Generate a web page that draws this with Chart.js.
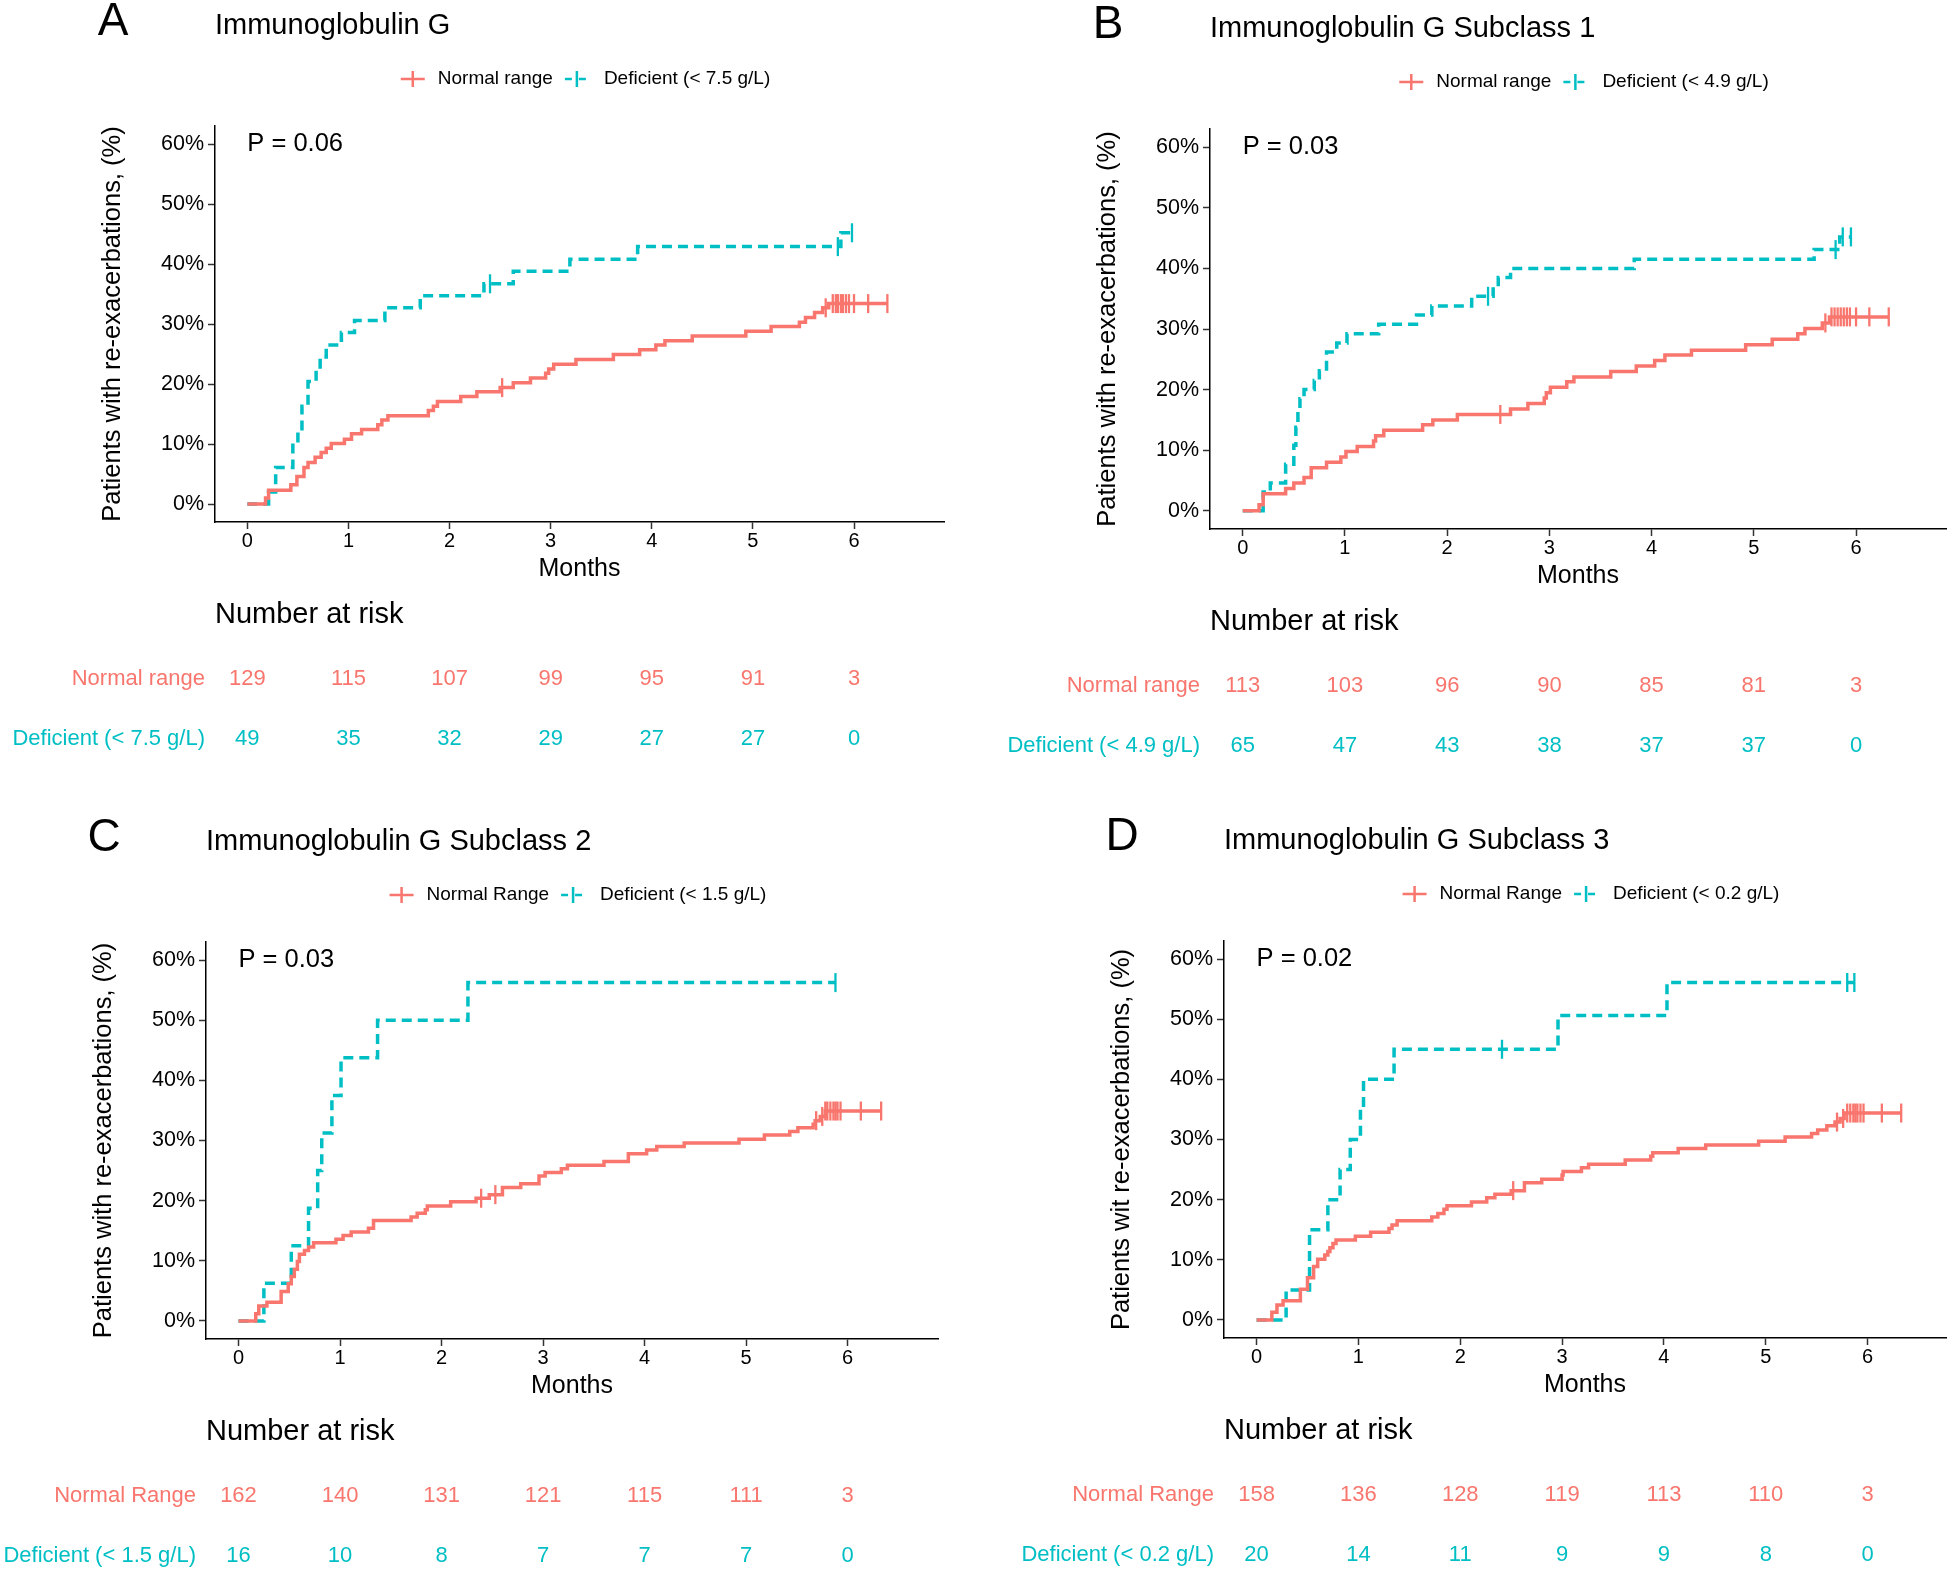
<!DOCTYPE html>
<html lang="en">
<head>
<meta charset="UTF-8" />
<title>Re-exacerbations by immunoglobulin G level</title>
<style>
  body { margin: 0; background: #fff; width: 1960px; height: 1572px; position: relative; overflow: hidden; }
  canvas { position: absolute; }
</style>
</head>
<body>
<canvas id="panelA" width="980" height="786" style="left:0px;top:0px"></canvas>
<canvas id="panelB" width="980" height="786" style="left:980px;top:0px"></canvas>
<canvas id="panelC" width="980" height="786" style="left:0px;top:786px"></canvas>
<canvas id="panelD" width="980" height="786" style="left:980px;top:786px"></canvas>
<script src="https://cdn.jsdelivr.net/npm/chart.js"></script>
<script>
// shared axes
const monthTicks = [0, 1, 2, 3, 4, 5, 6];
const pctTicks = [0, 10, 20, 30, 40, 50, 60];

// A - Immunoglobulin G
const aNormalTime = [0, 0.18, 0.21, 0.43, 0.49, 0.56, 0.6, 0.67, 0.73, 0.78, 0.83, 0.96, 1.03, 1.13, 1.29, 1.33, 1.39, 1.79, 1.84, 1.88, 2.11, 2.27, 2.5, 2.63, 2.8, 2.95, 2.98, 3.03, 3.25, 3.62, 3.88, 4.04, 4.13, 4.4, 4.93, 5.18, 5.46, 5.52, 5.61, 5.69, 5.75];
const aNormalPct = [0, 1.0, 2.3, 3.2, 4.6, 6.1, 6.9, 7.8, 8.6, 9.3, 10.1, 10.8, 11.7, 12.4, 13.2, 14.0, 14.7, 15.6, 16.3, 17.1, 17.9, 18.7, 19.4, 20.2, 21.0, 21.8, 22.5, 23.3, 24.1, 24.9, 25.7, 26.5, 27.2, 28.0, 28.8, 29.6, 30.3, 31.1, 31.9, 32.7, 33.4];
const aNormalCensor = [2.52, 5.72, 5.79, 5.82, 5.84, 5.87, 5.89, 5.92, 5.95, 6.0, 6.14, 6.33];
const aDefTime = [0, 0.21, 0.28, 0.45, 0.5, 0.54, 0.6, 0.68, 0.72, 0.78, 0.93, 1.06, 1.36, 1.71, 2.34, 2.63, 3.19, 3.86, 5.87];
const aDefPct = [0, 2.0, 6.1, 10.2, 12.2, 16.3, 20.4, 22.4, 24.5, 26.5, 28.6, 30.6, 32.7, 34.7, 36.7, 38.8, 40.8, 42.9, 45.2];
const aDefCensor = [2.4, 5.84, 5.98];
const aRiskNormal = [129, 115, 107, 99, 95, 91, 3];
const aRiskDef = [49, 35, 32, 29, 27, 27, 0];

// B - Subclass 1
const bNormalTime = [0, 0.16, 0.2, 0.42, 0.5, 0.6, 0.67, 0.82, 0.96, 1.01, 1.12, 1.28, 1.3, 1.38, 1.76, 1.86, 2.1, 2.62, 2.79, 2.95, 2.97, 3.01, 3.17, 3.24, 3.6, 3.85, 4.03, 4.13, 4.39, 4.92, 5.18, 5.43, 5.5, 5.67, 5.74];
const bNormalPct = [0, 1.0, 2.8, 3.7, 4.6, 5.5, 7.1, 8.0, 8.9, 9.8, 10.6, 11.5, 12.4, 13.3, 14.2, 15.0, 15.9, 16.8, 17.7, 18.6, 19.5, 20.4, 21.3, 22.1, 23.0, 23.9, 24.8, 25.7, 26.5, 27.4, 28.3, 29.2, 30.1, 31.0, 32.0];
const bNormalCensor = [2.52, 5.7, 5.76, 5.79, 5.82, 5.85, 5.88, 5.91, 5.94, 6.0, 6.13, 6.32];
const bDefTime = [0, 0.2, 0.27, 0.42, 0.5, 0.52, 0.54, 0.56, 0.6, 0.7, 0.75, 0.82, 0.92, 1.02, 1.33, 1.7, 1.85, 2.24, 2.45, 2.5, 2.62, 3.83, 5.59, 5.84];
const bDefPct = [0, 3.1, 4.6, 7.7, 10.8, 13.8, 16.9, 18.5, 20.0, 21.5, 23.1, 26.2, 27.7, 29.2, 30.8, 32.3, 33.8, 35.4, 36.9, 38.5, 40.0, 41.5, 43.1, 45.2];
const bDefCensor = [2.4, 5.8, 5.87, 5.95];
const bRiskNormal = [113, 103, 96, 90, 85, 81, 3];
const bRiskDef = [65, 47, 43, 38, 37, 37, 0];

// C - Subclass 2
const cNormalTime = [0, 0.17, 0.2, 0.28, 0.42, 0.49, 0.52, 0.55, 0.58, 0.6, 0.65, 0.69, 0.74, 0.96, 1.03, 1.11, 1.28, 1.33, 1.7, 1.76, 1.84, 1.86, 2.09, 2.34, 2.47, 2.6, 2.78, 2.96, 3.02, 3.18, 3.24, 3.6, 3.84, 4.02, 4.12, 4.39, 4.93, 5.18, 5.43, 5.51, 5.66, 5.68, 5.73, 5.78];
const cNormalPct = [0, 1.2, 2.5, 3.1, 4.9, 6.2, 7.4, 8.6, 9.9, 11.1, 11.7, 12.3, 13.0, 13.6, 14.2, 14.8, 15.4, 16.7, 17.3, 17.9, 18.5, 19.1, 19.8, 20.4, 21.0, 22.2, 22.8, 24.1, 24.7, 25.3, 25.9, 26.5, 27.8, 28.4, 29.0, 29.6, 30.2, 30.9, 31.5, 32.1, 32.7, 33.3, 34.0, 34.9];
const cNormalCensor = [2.39, 2.53, 5.69, 5.75, 5.78, 5.8, 5.83, 5.86, 5.88, 5.9, 5.93, 6.13, 6.33];
const cDefTime = [0, 0.25, 0.52, 0.69, 0.78, 0.82, 0.92, 1.01, 1.37, 2.26];
const cDefPct = [0, 6.25, 12.5, 18.75, 25, 31.25, 37.5, 43.75, 50, 56.25];
const cDefCensor = [5.88];
const cRiskNormal = [162, 140, 131, 121, 115, 111, 3];
const cRiskDef = [16, 10, 8, 7, 7, 7, 0];

// D - Subclass 3
const dNormalTime = [0, 0.15, 0.2, 0.26, 0.43, 0.5, 0.56, 0.6, 0.67, 0.7, 0.72, 0.75, 0.78, 0.97, 1.12, 1.3, 1.33, 1.38, 1.72, 1.78, 1.84, 1.87, 2.11, 2.26, 2.34, 2.5, 2.63, 2.8, 3.0, 3.01, 3.19, 3.26, 3.62, 3.87, 3.89, 4.14, 4.41, 4.93, 5.19, 5.45, 5.51, 5.6, 5.68, 5.73, 5.77];
const dNormalPct = [0, 1.3, 2.5, 3.2, 5.1, 7.0, 8.9, 10.1, 10.8, 11.4, 12.0, 12.7, 13.3, 13.9, 14.6, 15.2, 15.8, 16.5, 17.1, 17.7, 18.4, 19.0, 19.6, 20.3, 20.9, 21.5, 22.8, 23.4, 24.1, 24.7, 25.3, 25.9, 26.6, 27.2, 27.8, 28.5, 29.1, 29.7, 30.4, 31.0, 31.6, 32.3, 32.9, 33.5, 34.4];
const dNormalCensor = [2.52, 5.7, 5.76, 5.8, 5.83, 5.86, 5.88, 5.9, 5.93, 5.96, 6.14, 6.33];
const dDefTime = [0, 0.29, 0.52, 0.7, 0.82, 0.92, 1.02, 1.05, 1.35, 2.96, 4.03];
const dDefPct = [0, 5, 15, 20, 25, 30, 35, 40, 45, 50.6, 56.1];
const dDefCensor = [2.41, 5.8, 5.87];
const dRiskNormal = [158, 136, 128, 119, 113, 110, 3];
const dRiskDef = [20, 14, 11, 9, 9, 8, 0];

const FONT = '"Liberation Sans", Arial, Helvetica, sans-serif';
const RED = '#F8766D';
const CYAN = '#00BFC4';
const YW = 117;  // fixed y-axis box width
const XH = 62;   // fixed x-axis box height

Chart.defaults.font.family = FONT;

// value of a KM step curve at time t
function stepAt(times, pcts, t) {
  let v = pcts[0];
  for (let i = 0; i < times.length; i++) if (times[i] <= t) v = pcts[i];
  return v;
}

function curve(times, pcts, censor) {
  const pts = times.map((t, i) => ({x: t, y: pcts[i]}));
  const end = Math.max(...censor);
  if (end > times[times.length - 1]) pts.push({x: end, y: pcts[pcts.length - 1]});
  return pts;
}

function marks(times, pcts, censor) {
  return censor.map(t => ({x: t, y: stepAt(times, pcts, t)}));
}

function makePanel(id, p) {
  const box = p.box, plot = p.plot;

  const decor = {
    id: 'decor' + id,
    afterDraw(chart) {
      const {ctx, chartArea: {left, right, top, bottom}, scales: {x, y}} = chart;
      ctx.save();
      ctx.fillStyle = '#000';

      // panel letter + title
      ctx.textBaseline = 'alphabetic';
      ctx.textAlign = 'center';
      ctx.font = '46px ' + FONT;
      ctx.fillText(p.letter, left - 102, top - 91);
      ctx.textAlign = 'left';
      ctx.font = '29px ' + FONT;
      ctx.fillText(p.title, left, top - 92);

      // legend
      ctx.font = '19px ' + FONT;
      const w1 = ctx.measureText(p.normalLabel).width;
      const w2 = ctx.measureText(p.defLabel).width;
      const total = 88 + w1 + w2;
      const c1 = (left + right) / 2 + 6 - total / 2 + 12;
      const c2 = c1 + 25 + w1 + 24;
      const ly = top - 47;
      ctx.lineWidth = 2.5;
      ctx.strokeStyle = RED;
      ctx.beginPath();
      ctx.moveTo(c1 - 12, ly); ctx.lineTo(c1 + 12, ly);
      ctx.moveTo(c1, ly - 8); ctx.lineTo(c1, ly + 8);
      ctx.stroke();
      ctx.strokeStyle = CYAN;
      ctx.setLineDash([7, 7]);
      ctx.beginPath();
      ctx.moveTo(c2 - 12, ly); ctx.lineTo(c2 + 12, ly);
      ctx.stroke();
      ctx.setLineDash([]);
      ctx.beginPath();
      ctx.moveTo(c2, ly - 8); ctx.lineTo(c2, ly + 8);
      ctx.stroke();
      ctx.fillText(p.normalLabel, c1 + 25, top - 42);
      ctx.fillText(p.defLabel, c2 + 27, top - 42);

      // p value
      ctx.font = '25.5px ' + FONT;
      ctx.textBaseline = 'middle';
      ctx.fillText(p.pText, x.getPixelForValue(0), y.getPixelForValue(60));

      // number at risk table
      ctx.font = '29px ' + FONT;
      ctx.fillText('Number at risk', left, bottom + 93);
      ctx.font = '22px ' + FONT;
      [[p.normalLabel, p.riskNormal, RED, 157], [p.defLabel, p.riskDef, CYAN, 217]].forEach(([label, vals, col, dy]) => {
        ctx.fillStyle = col;
        ctx.textAlign = 'right';
        ctx.fillText(label, left - 10, bottom + dy);
        ctx.textAlign = 'center';
        vals.forEach((v, i) => ctx.fillText(String(v), x.getPixelForValue(monthTicks[i]), bottom + dy));
      });
      ctx.restore();
    }
  };

  const censorStyle = {
    type: 'scatter', showLine: false, pointStyle: 'line', rotation: 90,
    pointRadius: 9.5, pointHoverRadius: 9.5, pointBorderWidth: 2.3
  };

  new Chart(document.getElementById(id), {
    type: 'line',
    data: {
      datasets: [
        { data: curve(p.normalTime, p.normalPct, p.normalCensor), borderColor: RED, borderWidth: 3.5, stepped: 'before', pointRadius: 0 },
        Object.assign({ data: marks(p.normalTime, p.normalPct, p.normalCensor), borderColor: RED, backgroundColor: RED }, censorStyle),
        { data: curve(p.defTime, p.defPct, p.defCensor), borderColor: CYAN, borderWidth: 3.5, borderDash: [10, 6], stepped: 'before', pointRadius: 0 },
        Object.assign({ data: marks(p.defTime, p.defPct, p.defCensor), borderColor: CYAN, backgroundColor: CYAN }, censorStyle)
      ]
    },
    plugins: [decor],
    options: {
      responsive: false,
      animation: false,
      events: [],
      layout: {
        padding: {
          left: plot.l - box.x - YW,
          top: plot.t - box.y,
          right: box.x + box.w - plot.r,
          bottom: box.y + box.h - plot.b - XH
        }
      },
      plugins: { legend: { display: false }, tooltip: { enabled: false } },
      scales: {
        x: {
          type: 'linear', min: -0.32, max: p.xMax,
          afterBuildTicks: s => { s.ticks = monthTicks.map(v => ({value: v})); },
          afterFit: s => { s.height = XH; },
          border: { display: true, color: '#000', width: 1.5 },
          grid: { drawOnChartArea: false, drawTicks: true, tickLength: 7, tickWidth: 1.5, tickColor: '#333' },
          ticks: { padding: 0, color: '#000', font: { size: 20 }, maxRotation: 0 },
          title: { display: true, text: 'Months', color: '#000', font: { size: 25 }, padding: 0 }
        },
        y: {
          type: 'linear', min: -3, max: 63,
          afterBuildTicks: s => { s.ticks = pctTicks.map(v => ({value: v})); },
          afterFit: s => { s.width = YW; },
          border: { display: true, color: '#000', width: 1.5 },
          grid: { drawOnChartArea: false, drawTicks: true, tickLength: 7, tickWidth: 1.5, tickColor: '#333' },
          ticks: { padding: 4, color: '#000', font: { size: 21.5 }, callback: v => v + '%' },
          title: { display: true, text: p.yTitle, color: '#000', font: { size: 25.5 }, padding: 0 }
        }
      }
    }
  });
}

makePanel('panelA', {
  box: {x: 0, y: 0, w: 980, h: 786}, plot: {l: 215, t: 126, r: 944, b: 522}, xMax: 6.89,
  letter: 'A', title: 'Immunoglobulin G', pText: 'P = 0.06',
  normalLabel: 'Normal range', defLabel: 'Deficient (< 7.5 g/L)',
  yTitle: 'Patients with re-exacerbations, (%)',
  normalTime: aNormalTime, normalPct: aNormalPct, normalCensor: aNormalCensor,
  defTime: aDefTime, defPct: aDefPct, defCensor: aDefCensor,
  riskNormal: aRiskNormal, riskDef: aRiskDef
});
makePanel('panelB', {
  box: {x: 980, y: 0, w: 980, h: 786}, plot: {l: 1210, t: 129, r: 1946, b: 529}, xMax: 6.88,
  letter: 'B', title: 'Immunoglobulin G Subclass 1', pText: 'P = 0.03',
  normalLabel: 'Normal range', defLabel: 'Deficient (< 4.9 g/L)',
  yTitle: 'Patients with re-exacerbations, (%)',
  normalTime: bNormalTime, normalPct: bNormalPct, normalCensor: bNormalCensor,
  defTime: bDefTime, defPct: bDefPct, defCensor: bDefCensor,
  riskNormal: bRiskNormal, riskDef: bRiskDef
});
makePanel('panelC', {
  box: {x: 0, y: 786, w: 980, h: 786}, plot: {l: 206, t: 942, r: 938, b: 1339}, xMax: 6.89,
  letter: 'C', title: 'Immunoglobulin G Subclass 2', pText: 'P = 0.03',
  normalLabel: 'Normal Range', defLabel: 'Deficient (< 1.5 g/L)',
  yTitle: 'Patients with re-exacerbations, (%)',
  normalTime: cNormalTime, normalPct: cNormalPct, normalCensor: cNormalCensor,
  defTime: cDefTime, defPct: cDefPct, defCensor: cDefCensor,
  riskNormal: cRiskNormal, riskDef: cRiskDef
});
makePanel('panelD', {
  box: {x: 980, y: 786, w: 980, h: 786}, plot: {l: 1224, t: 941, r: 1946, b: 1338}, xMax: 6.77,
  letter: 'D', title: 'Immunoglobulin G Subclass 3', pText: 'P = 0.02',
  normalLabel: 'Normal Range', defLabel: 'Deficient (< 0.2 g/L)',
  yTitle: 'Patients wit re-exacerbations, (%)',
  normalTime: dNormalTime, normalPct: dNormalPct, normalCensor: dNormalCensor,
  defTime: dDefTime, defPct: dDefPct, defCensor: dDefCensor,
  riskNormal: dRiskNormal, riskDef: dRiskDef
});
</script>
</body>
</html>
